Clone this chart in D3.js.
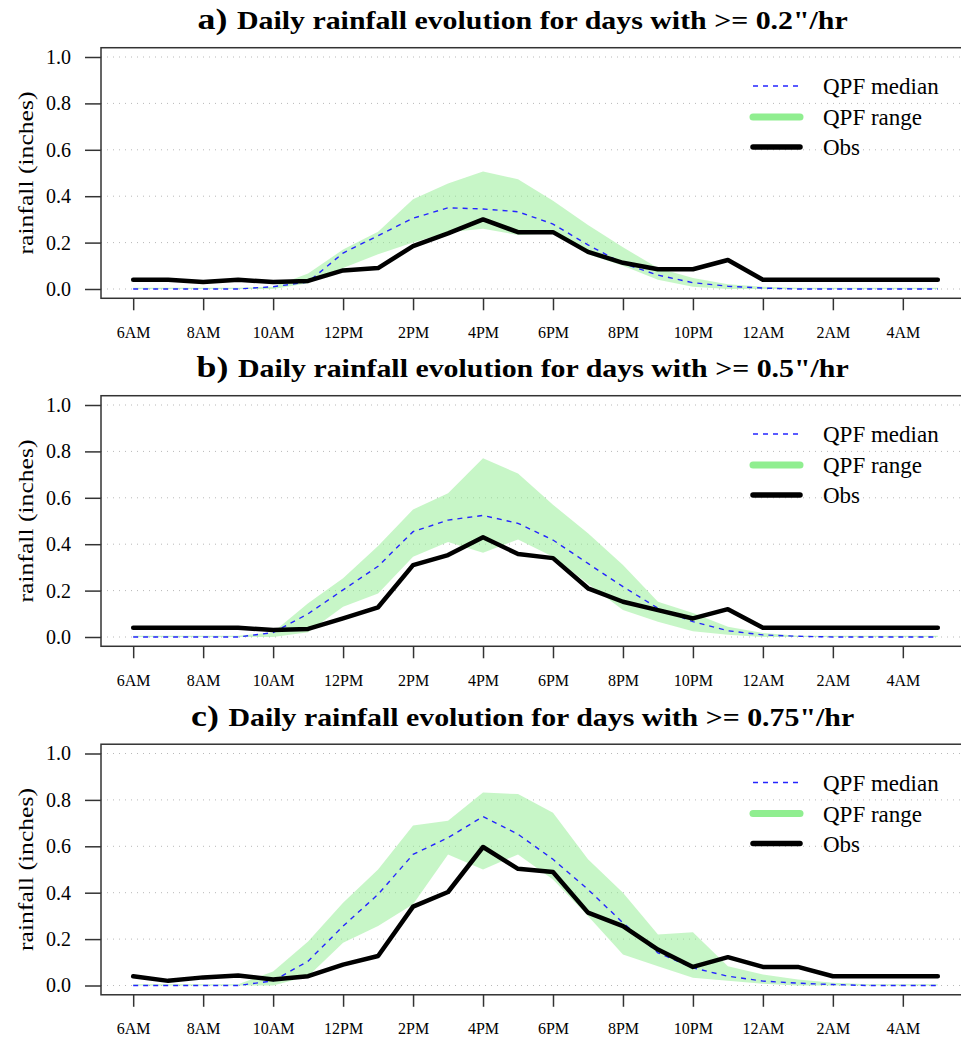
<!DOCTYPE html>
<html>
<head>
<meta charset="utf-8">
<script src="https://cdn.jsdelivr.net/npm/d3@7"></script>
<style>
	body { margin: 0; background: #fff; }
	text { font-family: "Liberation Serif", "DejaVu Serif", serif; }
</style>
</head>
<body>
<svg id="chart" width="961" height="1038"></svg>
<script>
"use strict"

// hourly slots, 6AM .. 5AM
var hourLabels = ["6AM", "8AM", "10AM", "12PM", "2PM", "4PM", "6PM", "8PM", "10PM", "12AM", "2AM", "4AM"];
var yTicks = [0.0, 0.2, 0.4, 0.6, 0.8, 1.0];

var obsA = [0.04, 0.04, 0.03, 0.04, 0.03, 0.035, 0.08, 0.09, 0.185, 0.24, 0.30, 0.245, 0.245, 0.16, 0.113, 0.085, 0.085, 0.125, 0.04, 0.04, 0.04, 0.04, 0.04, 0.04];
var medA = [0, 0, 0, 0, 0.01, 0.03, 0.155, 0.23, 0.305, 0.35, 0.345, 0.333, 0.28, 0.19, 0.11, 0.06, 0.027, 0.012, 0.004, 0, 0, 0, 0, 0];
var loA = [0, 0, 0, 0, 0, 0.025, 0.09, 0.15, 0.2, 0.245, 0.26, 0.233, 0.24, 0.15, 0.1, 0.04, 0.01, 0, 0, 0, 0, 0, 0, 0];
var hiA = [0.005, 0.005, 0.005, 0.005, 0.01, 0.067, 0.17, 0.247, 0.387, 0.455, 0.506, 0.473, 0.38, 0.276, 0.18, 0.09, 0.047, 0.02, 0.01, 0.005, 0.005, 0.005, 0.005, 0.005];

var obsB = [0.04, 0.04, 0.04, 0.04, 0.03, 0.035, 0.08, 0.128, 0.31, 0.353, 0.43, 0.358, 0.34, 0.21, 0.152, 0.116, 0.08, 0.12, 0.04, 0.04, 0.04, 0.04, 0.04, 0.04];
var medB = [0, 0, 0, 0, 0.019, 0.10, 0.203, 0.305, 0.454, 0.504, 0.524, 0.49, 0.418, 0.317, 0.217, 0.124, 0.066, 0.027, 0.009, 0.003, 0, 0, 0, 0];
var loB = [0, 0, 0, 0, 0, 0.02, 0.13, 0.188, 0.346, 0.41, 0.363, 0.42, 0.346, 0.23, 0.116, 0.066, 0.025, 0.01, 0, 0, 0, 0, 0, 0];
var hiB = [0.005, 0.005, 0.005, 0.005, 0.02, 0.145, 0.253, 0.392, 0.55, 0.62, 0.77, 0.705, 0.57, 0.447, 0.31, 0.152, 0.103, 0.044, 0.017, 0.005, 0.005, 0.005, 0.005, 0.005];

var obsC = [0.04, 0.02, 0.035, 0.043, 0.026, 0.04, 0.09, 0.127, 0.34, 0.403, 0.597, 0.503, 0.489, 0.314, 0.256, 0.155, 0.08, 0.122, 0.08, 0.08, 0.04, 0.04, 0.04, 0.04];
var medC = [0, 0, 0, 0, 0.02, 0.105, 0.256, 0.393, 0.565, 0.637, 0.728, 0.652, 0.544, 0.414, 0.27, 0.141, 0.076, 0.04, 0.019, 0.01, 0.004, 0, 0, 0];
var loC = [0, 0, 0, 0, 0, 0.04, 0.184, 0.256, 0.35, 0.565, 0.5, 0.565, 0.457, 0.3, 0.134, 0.083, 0.033, 0.02, 0.008, 0, 0, 0, 0, 0];
var hiC = [0.005, 0.005, 0.005, 0.005, 0.06, 0.19, 0.357, 0.5, 0.69, 0.71, 0.832, 0.825, 0.745, 0.544, 0.4, 0.22, 0.23, 0.083, 0.047, 0.026, 0.012, 0.005, 0.005, 0.005];

var panelLetters = ["a)", "b)", "c)"];
var panelTitles = [
	"Daily rainfall evolution for days with >= 0.2\"/hr",
	"Daily rainfall evolution for days with >= 0.5\"/hr",
	"Daily rainfall evolution for days with >= 0.75\"/hr"
];
var legendLabels = ["QPF median", "QPF range", "Obs"];

var panels = [
	{obs: obsA, med: medA, lo: loA, hi: hiA},
	{obs: obsB, med: medB, lo: loB, hi: hiB},
	{obs: obsC, med: medC, lo: loC, hi: hiC}
];

var svg = d3.select("#chart");
var boxLeft = 101, boxRight = 970;
var unitH = 232;
var zeroY = [289, 637, 985.5];

var x = d3.scaleLinear()
	.domain([-0.92, 23.92])
	.range([boxLeft, boxRight]);

var titleScale = null;

function drawPanel(k) {
	var p = panels[k];
	var y0 = zeroY[k];
	var y = d3.scaleLinear()
		.domain([-0.04, 1.04])
		.range([y0 + 0.04 * unitH, y0 - 1.04 * unitH]);
	var g = svg.append("g");

	// dotted grid
	g.selectAll("line.grid")
		.data(yTicks)
		.enter().append("line")
		.attr("x1", boxLeft)
		.attr("x2", boxRight)
		.attr("y1", function(d) { return y(d); })
		.attr("y2", function(d) { return y(d); })
		.attr("stroke", "#b8b8b8")
		.attr("stroke-width", 1)
		.attr("stroke-dasharray", "1,5");

	// QPF range band
	var area = d3.area()
		.x(function(d, i) { return x(i); })
		.y0(function(d, i) { return y(p.lo[i]); })
		.y1(function(d, i) { return y(p.hi[i]); });
	g.append("path")
		.attr("d", area(p.hi))
		.attr("fill", "#90ee90")
		.attr("fill-opacity", 0.5)
		.attr("stroke", "none");

	var line = d3.line()
		.x(function(d, i) { return x(i); })
		.y(function(d) { return y(d); });
	g.append("path")
		.attr("d", line(p.med))
		.attr("fill", "none")
		.attr("stroke", "#2424ff")
		.attr("stroke-width", 1.4)
		.attr("stroke-dasharray", "5,5");
	g.append("path")
		.attr("d", line(p.obs))
		.attr("fill", "none")
		.attr("stroke", "#000")
		.attr("stroke-width", 4.5)
		.attr("stroke-linejoin", "round")
		.attr("stroke-linecap", "round");

	// box
	g.append("rect")
		.attr("x", boxLeft)
		.attr("y", y(1.04))
		.attr("width", boxRight - boxLeft)
		.attr("height", y(-0.04) - y(1.04))
		.attr("fill", "none")
		.attr("stroke", "#333")
		.attr("stroke-width", 1.5);

	// axes, R style (ticks outside the box)
	var yAxis = d3.axisLeft(y)
		.tickValues(yTicks)
		.tickSize(16)
		.tickPadding(14)
		.tickFormat(d3.format(".1f"));
	var ya = g.append("g")
		.attr("transform", "translate(" + boxLeft + ",0)")
		.call(yAxis);
	ya.select(".domain").remove();
	ya.selectAll("line").attr("stroke", "#333").attr("stroke-width", 1.5);
	ya.selectAll("text")
		.attr("font-size", 20)
		.attr("font-family", "Liberation Serif")
		.attr("fill", "#000");

	var xAxis = d3.axisBottom(x)
		.tickValues(d3.range(0, 24, 2))
		.tickSize(12)
		.tickPadding(16)
		.tickFormat(function(d, i) { return hourLabels[i]; });
	var xa = g.append("g")
		.attr("transform", "translate(0," + y(-0.04) + ")")
		.call(xAxis);
	xa.select(".domain").remove();
	xa.selectAll("line").attr("stroke", "#333").attr("stroke-width", 1.5);
	xa.selectAll("text")
		.attr("font-size", 16)
		.attr("font-family", "Liberation Serif")
		.attr("fill", "#000");

	// y title
	g.append("text")
		.attr("transform", "translate(33," + y(0.5) + ") rotate(-90)")
		.attr("text-anchor", "middle")
		.attr("font-size", 22)
		.attr("textLength", 163)
		.attr("lengthAdjust", "spacingAndGlyphs")
		.text("rainfall (inches)");

	// title
	var tg = g.append("g");
	var t = tg.append("text")
		.attr("font-weight", "bold")
		.attr("y", 0);
	t.append("tspan")
		.attr("font-size", 30)
		.text(panelLetters[k]);
	t.append("tspan")
		.attr("font-size", 25)
		.attr("dx", 8)
		.text(panelTitles[k]);
	var w = t.node().getComputedTextLength();
	if (titleScale == null) titleScale = 641 / w;
	tg.attr("transform", "translate(" + (518 - w * titleScale / 2) + "," + (y(1) - 28) + ") scale(" + titleScale + ",1)");

	// legend
	var lx0 = 753, lx1 = 800;
	var ly = [y(1) + 29, y(1) + 60, y(1) + 90];
	g.append("line")
		.attr("x1", lx0).attr("x2", lx1)
		.attr("y1", ly[0]).attr("y2", ly[0])
		.attr("stroke", "#2424ff")
		.attr("stroke-width", 1.4)
		.attr("stroke-dasharray", "5,5");
	g.append("line")
		.attr("x1", lx0).attr("x2", lx1)
		.attr("y1", ly[1]).attr("y2", ly[1])
		.attr("stroke", "#90ee90")
		.attr("stroke-width", 7)
		.attr("stroke-linecap", "round");
	g.append("line")
		.attr("x1", lx0).attr("x2", lx1)
		.attr("y1", ly[2]).attr("y2", ly[2])
		.attr("stroke", "#000")
		.attr("stroke-width", 5.5)
		.attr("stroke-linecap", "round");
	g.selectAll("text.leg")
		.data(legendLabels)
		.enter().append("text")
		.attr("class", "leg")
		.attr("x", 823)
		.attr("y", function(d, i) { return ly[i] + 8; })
		.attr("font-size", 23)
		.text(function(d) { return d; });
}

for (var k = 0; k < panels.length; k++) drawPanel(k);
</script>
</body>
</html>
